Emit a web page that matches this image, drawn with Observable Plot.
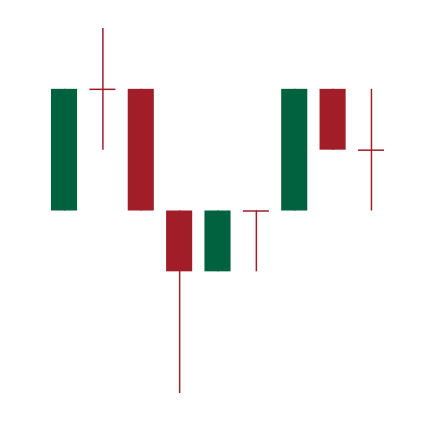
<!DOCTYPE html>
<html>
<head>
<meta charset="utf-8">
<script src="https://cdn.jsdelivr.net/npm/d3@7"></script>
<script src="https://cdn.jsdelivr.net/npm/@observablehq/plot@0.6"></script>
<style>
  html, body { margin: 0; padding: 0; background: #fff; }
</style>
</head>
<body>
<div id="chart"></div>
<script>
const periods = [1, 2, 3, 4, 5, 6, 7, 8, 9];
const opens  = [3, 5, 5, 3, 2, 3, 3, 5, 4];
const closes = [5, 5, 3, 2, 3, 3, 5, 4, 4];
const highs  = [5, 6, 5, 3, 3, 3, 5, 5, 5];
const lows   = [3, 4, 3, 0, 2, 2, 3, 4, 3];

const data = periods.map((p, i) => ({
  period: p, open: opens[i], close: closes[i], high: highs[i], low: lows[i],
  dir: closes[i] > opens[i] ? "up" : closes[i] < opens[i] ? "down" : "flat"
}));

const GREEN = "#00623e";
const RED = "#a11d28";

const chart = Plot.plot({
  width: 434,
  height: 422,
  marginLeft: 51,
  marginRight: 50,
  marginTop: 28,
  marginBottom: 29,
  x: { type: "band", domain: periods, paddingInner: 0.32, paddingOuter: 0, round: false, axis: null },
  y: { domain: [0, 6], axis: null },
  color: { domain: ["up", "down", "flat"], range: [GREEN, RED, RED] },
  marks: [
    Plot.ruleX(data, { x: "period", y1: "low", y2: "high", stroke: "dir", strokeWidth: 1.5 }),
    Plot.barY(data.filter(d => d.dir !== "flat"), { x: "period", y1: "open", y2: "close", fill: "dir" }),
    Plot.tickY(data.filter(d => d.dir === "flat"), { x: "period", y: "close", stroke: "dir", strokeWidth: 1.5 })
  ]
});
document.getElementById("chart").appendChild(chart);
</script>
</body>
</html>
